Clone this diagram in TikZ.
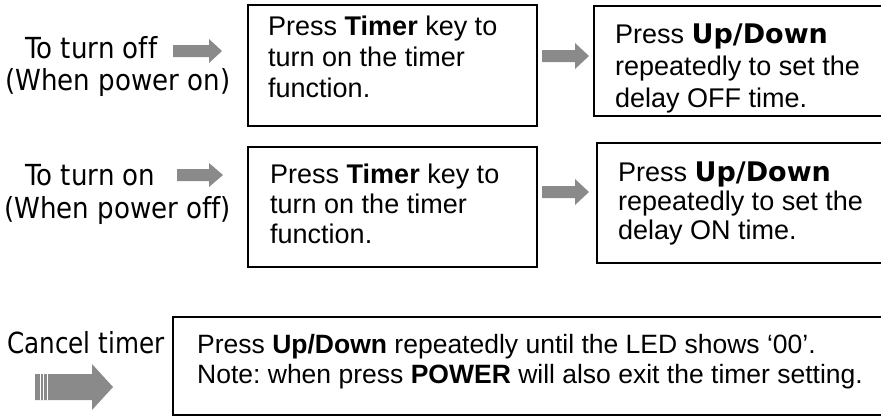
\documentclass[tikz,border=0pt]{standalone}
\usepackage{fontspec}
\setmainfont{Liberation Sans}
\newfontfamily\lblfont[FakeStretch=0.9,Ligatures=NoCommon]{DejaVu Sans}
\newfontfamily\lblfontc[FakeStretch=0.85,Ligatures=NoCommon]{DejaVu Sans}
\newfontfamily\udfont{DejaVu Sans}
\definecolor{arrowgray}{HTML}{8A8A8A}
\newcommand\blockarrow[6]{\fill[arrowgray] (#1,{#4-#5}) -- (#3,{#4-#5}) -- (#3,{#4-#6}) -- (#2,#4) -- (#3,{#4+#6}) -- (#3,{#4+#5}) -- (#1,{#4+#5}) -- cycle;}
\frenchspacing
\begin{document}
\begin{tikzpicture}[x=1pt,y=-1pt,
 box/.style={draw=black, line width=1.5pt, anchor=north west, inner sep=0pt, outer sep=0pt},
 boxtext/.style={anchor=base west, inner sep=0pt, align=left, font=\frenchspacing\fontsize{27}{#1}\selectfont},
 boxtext/.default=31,
 notetext/.style={anchor=base west, inner sep=0pt, align=left, font=\frenchspacing\fontsize{26.5}{30}\selectfont},
 lbl/.style={anchor=base west, inner sep=0pt, font=\lblfont\fontsize{29}{33}\selectfont},
 lblc/.style={anchor=base west, inner sep=0pt, font=\lblfontc\fontsize{29}{33}\selectfont}]
\useasboundingbox (0,0) rectangle (881,416);
\clip (0,0) rectangle (881,416);
% row 1 (text nodes anchored at the baseline of their last line)
\node[lbl] (l1a) at (25,58) {To turn off};
\node[lbl] (l1b) at (5,90) {(When power on)};
\blockarrow{173}{222}{209}{51}{6}{12}
\node[box, minimum width=289pt, minimum height=121pt] (b1) at (248,5) {};
\node[boxtext=31] (t1) at (268,97) {Press \textbf{Timer} key to\\turn on the timer\\function.};
\blockarrow{542}{589}{575}{56}{6}{13}
\node[box, minimum width=320pt, minimum height=110pt] (b2) at (594,6) {};
\node[boxtext=32] (t2) at (615,107) {Press {\udfont\bfseries Up/Down}\\repeatedly to set the\\delay OFF time.};
% row 2
\node[lbl] (l2a) at (25,185) {To turn on};
\node[lbl] (l2b) at (4,218) {(When power off)};
\blockarrow{177}{223}{209}{175}{6}{12}
\node[box, minimum width=289pt, minimum height=120pt] (b3) at (248,147) {};
\node[boxtext=30] (t3) at (270,243) {Press \textbf{Timer} key to\\turn on the timer\\function.};
\blockarrow{542}{589}{575}{192}{6}{13}
\node[box, minimum width=320pt, minimum height=120pt] (b4) at (597,143) {};
\node[boxtext=29] (t4) at (618,239) {Press {\udfont\bfseries Up/Down}\\repeatedly to set the\\delay ON time.};
% row 3
\node[lblc] (l3) at (7,353) {Cancel timer};
\blockarrow{35}{113}{92}{387}{13}{23}
\draw[white, line width=0.8pt] (40,374) -- (40,400) (43,374) -- (43,400) (47,374) -- (47,400);
\node[box, minimum width=750pt, minimum height=98pt] (b5) at (173,317) {};
\node[notetext] (t5) at (197,383) {Press \textbf{Up/Down} repeatedly until the LED shows ‘00’.\\Note: when press \textbf{POWER} will also exit the timer setting.};
\end{tikzpicture}
\end{document}
